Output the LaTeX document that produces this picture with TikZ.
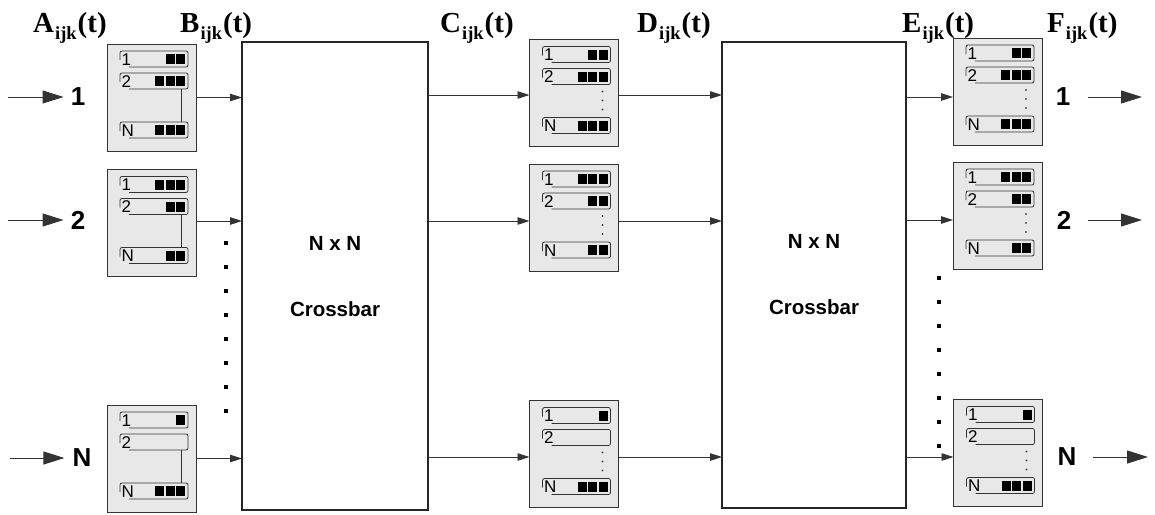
\documentclass[tikz,border=0pt]{standalone}
\usepackage{fontspec}
\setmainfont{Liberation Sans}
\newfontfamily\tnr{Liberation Serif}
\usetikzlibrary{arrows.meta}
\definecolor{boxfill}{HTML}{E8E8E8}
\definecolor{edgec}{HTML}{333333}
\newcommand\subijk{\kern1pt\raisebox{-7pt}{\fontsize{18.5}{18.5}\selectfont ijk}\kern1pt}
\newcommand\qrow[5]{%
  \draw[qline] (13,#3+9) -- (13,#3) -- (81,#3) -- (81,#3+16) -- (22,#3+16);
  \node[qlab] (#1-#2) at (14.5,#3+14) {#4};
  \ifnum#5>0
    \foreach \k in {1,...,#5}{\fill (79.5-\k*10.5,#3+3) rectangle ++(9,10);}
  \fi}
\newcommand\bufbox[7]{%
  \node[bufbox] (#1) at (#2,#3) {};
  \begin{scope}[shift={(#1.north west)}]
    \qrow{#1}{a}{7}{1}{#4}
    \qrow{#1}{b}{29}{2}{#5}
    \qrow{#1}{c}{78}{N}{#6}
    \ifnum#7=0
      \draw[qline] (74,45) -- (74,78);
    \else
      \foreach \d in {52,61,70}{\fill (73,\d) circle (0.8pt);}
    \fi
  \end{scope}}
\begin{document}
\begin{tikzpicture}[x=1pt,y=-1pt,
  bufbox/.style={draw=edgec,line width=0.9pt,fill=boxfill,minimum width=89pt,minimum height=107pt,inner sep=0pt,outer sep=0pt},
  qline/.style={draw=edgec,line width=0.8pt,rounded corners=2pt},
  qlab/.style={anchor=base west,inner sep=0pt,font=\fontsize{17}{17}\selectfont},
  xbar/.style={draw=black!85,line width=1.2pt,fill=white,minimum width=186pt,minimum height=468pt,inner sep=0pt,outer sep=0pt},
  xtext/.style={font=\bfseries\fontsize{20.5}{20.5}\selectfont,inner sep=0pt},
  hdr/.style={anchor=base west,inner sep=0pt,font=\tnr\bfseries\fontsize{29}{29}\selectfont},
  iolab/.style={inner sep=0pt,font=\bfseries\fontsize{26}{26}\selectfont},
  arr/.style={draw=edgec,line width=0.9pt,-{Triangle[length=12pt,width=7.5pt]}},
  bigarr/.style={draw=edgec,line width=0.9pt,-{Triangle[length=21pt,width=13pt]}},
  dotsq/.style={fill=black}
]
\useasboundingbox (0,0) rectangle (1155,514);

% headers
\node[hdr] (hA) at (33,32) {A\subijk(t)};
\node[hdr] (hB) at (180,32) {B\subijk(t)};
\node[hdr] (hC) at (440,32) {C\subijk(t)};
\node[hdr] (hD) at (637,32) {D\subijk(t)};
\node[hdr] (hE) at (902,32) {E\subijk(t)};
\node[hdr] (hF) at (1047,32) {F\subijk(t)};

% crossbars
\node[xbar] (X1) at (335,276) {};
\node[xbar,minimum width=184pt,minimum height=466pt] (X2) at (814,275) {};
\node[xtext] (X1a) at ([yshift=33pt]X1.center) {N x N};
\node[xtext] (X1b) at ([yshift=-33pt]X1.center) {Crossbar};
\node[xtext] (X2a) at ([yshift=34pt]X2.center) {N x N};
\node[xtext] (X2b) at ([yshift=-32pt]X2.center) {Crossbar};

% buffers
\bufbox{L1}{151.5}{97.5}{2}{3}{3}{0}
\bufbox{L2}{151.5}{223}{3}{2}{2}{0}
\bufbox{LN}{151.5}{458.5}{1}{0}{3}{0}
\bufbox{M1}{574}{93}{2}{3}{3}{1}
\bufbox{M2}{574}{217.5}{3}{2}{2}{1}
\bufbox{MN}{574}{454}{1}{0}{3}{1}
\bufbox{R1}{997.5}{91.5}{2}{3}{3}{1}
\bufbox{R2}{997.5}{215.5}{3}{2}{2}{1}
\bufbox{RN}{998}{453}{1}{0}{3}{1}

% inputs
\node[iolab] (in1) at (78,97) {1};
\node[iolab] (in2) at (78,220) {2};
\node[iolab] (inN) at (82,458) {N};
\coordinate (s1) at (8,97);
\coordinate (s2) at (8,220);
\coordinate (sN) at (10,458);
\draw[bigarr,shorten >=7pt] (s1) -- (in1);
\draw[bigarr,shorten >=7pt] (s2) -- (in2);
\draw[bigarr,shorten >=8pt] (sN) -- (inN);

% outputs
\node[iolab] (out1) at (1063,97) {1};
\node[iolab] (out2) at (1064,220) {2};
\node[iolab] (outN) at (1067,457) {N};
\coordinate (e1) at (1142,97);
\coordinate (e2) at (1142,220);
\coordinate (eN) at (1148,457);
\draw[bigarr,shorten <=18pt] (out1) -- (e1);
\draw[bigarr,shorten <=17pt] (out2) -- (e2);
\draw[bigarr,shorten <=16pt] (outN) -- (eN);

% left buffers to crossbar 1
\draw[arr] (L1.east) -- (L1.east -| X1.west);
\draw[arr] ([yshift=2pt]L2.east) -- ([yshift=2pt]L2.east -| X1.west);
\draw[arr] (LN.east) -- (LN.east -| X1.west);

% crossbar 1 to middle buffers
\draw[arr] ([yshift=-2pt]M1.west -| X1.east) -- ([yshift=-2pt]M1.west);
\draw[arr] ([yshift=-3.5pt]M2.west -| X1.east) -- ([yshift=-3.5pt]M2.west);
\draw[arr] ([yshift=-3pt]MN.west -| X1.east) -- ([yshift=-3pt]MN.west);

% middle buffers to crossbar 2
\draw[arr] ([yshift=-2pt]M1.east) -- ([yshift=-2pt]M1.east -| X2.west);
\draw[arr] ([yshift=-3.5pt]M2.east) -- ([yshift=-3.5pt]M2.east -| X2.west);
\draw[arr] ([yshift=-3pt]MN.east) -- ([yshift=-3pt]MN.east -| X2.west);

% crossbar 2 to right buffers
\draw[arr] ([yshift=-5.5pt]R1.west -| X2.east) -- ([yshift=-5.5pt]R1.west);
\draw[arr] ([yshift=-4.5pt]R2.west -| X2.east) -- ([yshift=-4.5pt]R2.west);
\draw[arr] ([yshift=-4pt]RN.west -| X2.east) -- ([yshift=-4pt]RN.west);

% vertical ellipses
\foreach \i in {0,...,7}{
  \fill[dotsq] (224.4,243+24*\i-1.6) rectangle ++(3.2,3.2);
  \fill[dotsq] (937.4,278+24*\i-1.6) rectangle ++(3.2,3.2);
}
\end{tikzpicture}
\end{document}
